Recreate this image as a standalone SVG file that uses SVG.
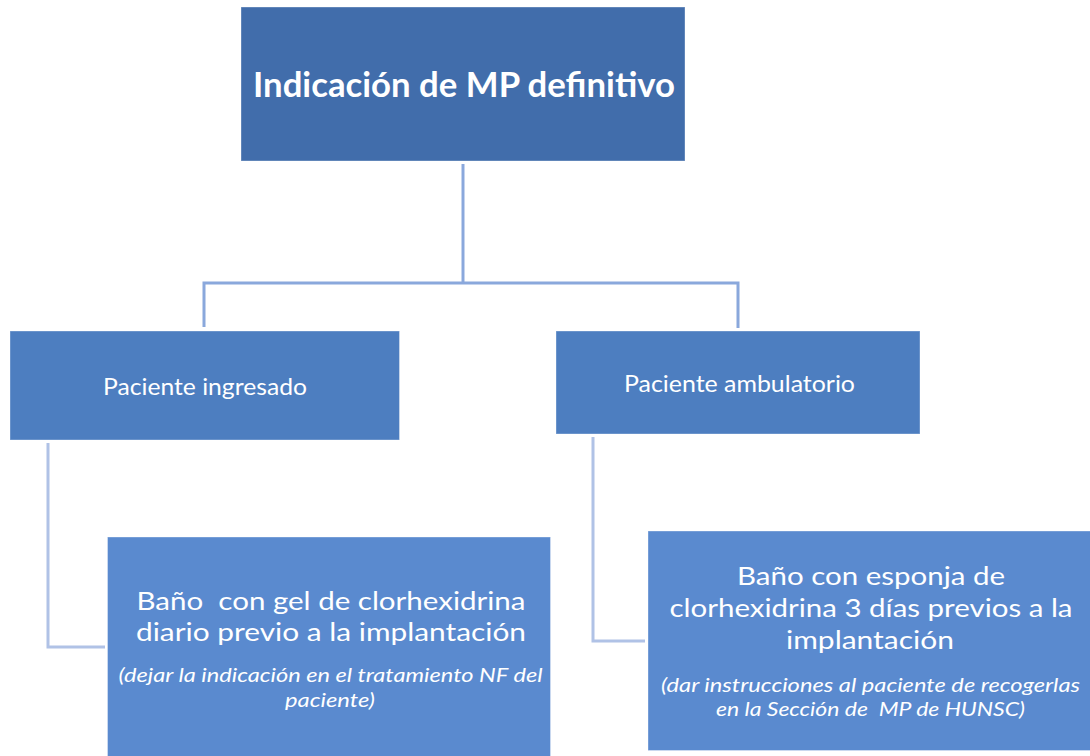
<svg xmlns="http://www.w3.org/2000/svg" width="1090" height="756" viewBox="0 0 1090 756">
<style>
  .t { fill: #ffffff; font-family: Lato, "Open Sans", "Liberation Sans", sans-serif; text-anchor: middle; }
  .title { font-size: 34px; font-weight: 700; }
  .mid { font-size: 24px; }
  .main { font-size: 25px; }
  .note { font-size: 19px; font-style: italic; }
  .conn1 { fill: none; stroke: #8AA8DC; stroke-width: 3; }
  .conn2 { fill: none; stroke: #B0C2E6; stroke-width: 3; }
  .box { stroke: #ffffff; stroke-opacity: 0.35; stroke-width: 1; }
</style>
<rect width="1090" height="756" fill="#ffffff"/>
<g id="connectors">
  <path class="conn1" d="M463,164 V283"/>
  <path class="conn1" d="M204,327 V283 H738 V328"/>
  <path class="conn2" d="M48,443 V647 H105"/>
  <path class="conn2" d="M593,437 V641 H645"/>
</g>
<g id="node-top">
  <rect class="box" x="241" y="7" width="444" height="154" fill="#416DAB"/>
  <text class="t title" x="464" y="97" textLength="422" lengthAdjust="spacingAndGlyphs">Indicación de MP definitivo</text>
</g>
<g id="node-ingresado">
  <rect class="box" x="10" y="331" width="389.5" height="109" fill="#4D7EC0"/>
  <text class="t mid" x="205" y="395" textLength="204" lengthAdjust="spacingAndGlyphs">Paciente ingresado</text>
</g>
<g id="node-ambulatorio">
  <rect class="box" x="556" y="331" width="364" height="103" fill="#4D7EC0"/>
  <text class="t mid" x="739.5" y="391.5" textLength="231" lengthAdjust="spacingAndGlyphs">Paciente ambulatorio</text>
</g>
<g id="node-bano-gel">
  <rect class="box" x="107.5" y="537" width="443" height="222" fill="#5A8ACF"/>
  <text class="t main" x="331" y="609.5" textLength="389" lengthAdjust="spacingAndGlyphs" xml:space="preserve">Baño  con gel de clorhexidrina</text>
  <text class="t main" x="331" y="641" textLength="390" lengthAdjust="spacingAndGlyphs">diario previo a la implantación</text>
  <text class="t note" x="330.5" y="682" textLength="424" lengthAdjust="spacingAndGlyphs">(dejar la indicación en el tratamiento NF del</text>
  <text class="t note" x="330" y="706.5" textLength="90" lengthAdjust="spacingAndGlyphs">paciente)</text>
</g>
<g id="node-bano-esponja">
  <rect class="box" x="648" y="531" width="445" height="219.5" fill="#5A8ACF"/>
  <text class="t main" x="871" y="585" textLength="268" lengthAdjust="spacingAndGlyphs">Baño con esponja de</text>
  <text class="t main" x="871" y="617" textLength="403" lengthAdjust="spacingAndGlyphs">clorhexidrina 3 días previos a la</text>
  <text class="t main" x="870" y="648.5" textLength="168" lengthAdjust="spacingAndGlyphs">implantación</text>
  <text class="t note" x="870.5" y="691.5" textLength="419" lengthAdjust="spacingAndGlyphs">(dar instrucciones al paciente de recogerlas</text>
  <text class="t note" x="870.5" y="715.5" textLength="309" lengthAdjust="spacingAndGlyphs" xml:space="preserve">en la Sección de  MP de HUNSC)</text>
</g>
</svg>
